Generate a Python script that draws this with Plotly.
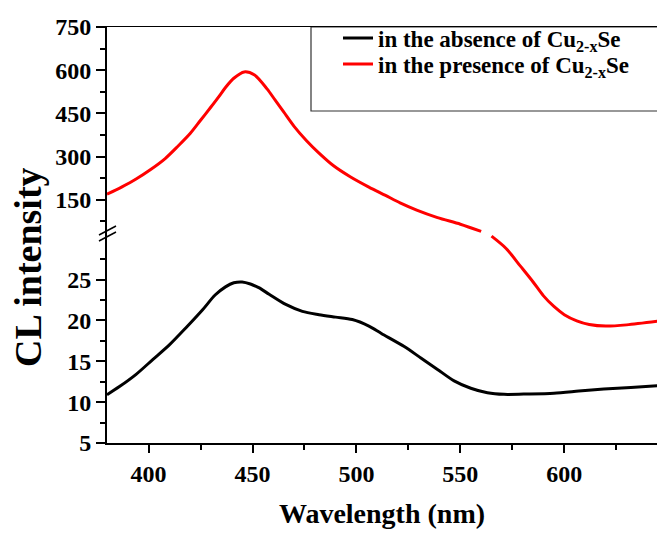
import plotly.graph_objects as go
from plotly.subplots import make_subplots

# ---- data ----
black_x = [380, 386, 394, 402, 410, 418, 426, 432, 437, 441, 445, 449, 453, 458, 466, 474, 482, 490,
           498, 506, 512, 523, 531, 539, 547, 555, 563, 571, 583, 595, 607, 619, 632, 645]
black_y = [10.9, 11.9, 13.4, 15.2, 17.0, 19.1, 21.3, 23.1, 24.1, 24.6, 24.7, 24.45, 24.0, 23.2, 21.95, 21.1,
           20.7, 20.4, 20.1, 19.3, 18.4, 16.8, 15.4, 14.0, 12.6, 11.7, 11.15, 10.95, 11.0, 11.1, 11.35,
           11.6, 11.8, 12.0]

red_upper_x = [380, 387, 394, 401, 408, 414, 420, 425, 430, 434, 437, 441, 446, 451, 457, 461, 465,
               470, 476, 482, 489, 497, 506, 514, 521, 529, 539, 550, 560]
red_upper_y = [169, 194, 222, 255, 293, 335, 380, 426, 472, 510, 540, 572, 594, 583, 535, 495, 455,
               405, 355, 312, 268, 230, 194, 165, 139, 114, 88, 65, 40]

red_lower_x = [565, 572, 579, 585, 590, 595, 600, 606, 612, 620, 630, 645]
red_lower_y = [30.3, 28.8, 26.6, 24.7, 23.0, 21.7, 20.7, 19.95, 19.5, 19.3, 19.45, 19.9]

lower_ticks = [5, 10, 15, 20, 25]
lower_minor = [7.5, 12.5, 17.5, 22.5, 27.5]
upper_ticks = [150, 300, 450, 600, 750]
upper_minor = [75, 225, 375, 525, 675]

name_absence = "in the absence of Cu<sub>2-x</sub>Se"
name_presence = "in the presence of Cu<sub>2-x</sub>Se"

FONT = "Liberation Serif"

fig = make_subplots(rows=2, cols=1, shared_xaxes=False, vertical_spacing=0,
                    row_heights=[0.495, 0.505])

line_kw = dict(width=3, shape="spline", smoothing=0.8)
fig.add_trace(go.Scatter(x=black_x, y=black_y, mode="lines", name=name_absence,
                         line=dict(color="black", **line_kw), legend="legend"), row=2, col=1)
fig.add_trace(go.Scatter(x=red_upper_x, y=red_upper_y, mode="lines", name=name_presence,
                         line=dict(color="#ff0000", **line_kw), legend="legend2",
                         legendgroup="p"), row=1, col=1)
fig.add_trace(go.Scatter(x=red_lower_x, y=red_lower_y, mode="lines", name=name_presence,
                         line=dict(color="#ff0000", **line_kw), legendgroup="p",
                         showlegend=False), row=2, col=1)

tickfont = dict(family=FONT, size=24, color="black", weight="bold")
xr = [380, 644.6]

# lower x axis (bottom)
fig.update_xaxes(row=2, col=1, range=xr, dtick=50, tick0=0, showline=True, linecolor="black",
                 linewidth=2, ticks="outside", ticklen=8, tickwidth=2, tickcolor="black",
                 tickfont=tickfont, showgrid=False, zeroline=False,
                 minor=dict(ticks="outside", ticklen=5, tickwidth=2, tickcolor="black", dtick=25),
                 title=dict(text="Wavelength (nm)", font=dict(family=FONT, size=28, color="black",
                                                               weight="bold"), standoff=18))
# upper x axis (top frame line only)
fig.update_xaxes(row=1, col=1, range=xr, showline=True, linecolor="black", linewidth=1,
                 side="top", ticks="", showticklabels=False, showgrid=False, zeroline=False)

# lower y axis
fig.update_yaxes(row=2, col=1, range=[5, 30.7], tickvals=lower_ticks, showline=True,
                 linecolor="black", linewidth=2, ticks="outside", ticklen=9, tickwidth=2,
                 tickcolor="black", tickfont=tickfont, showgrid=False, zeroline=False,
                 minor=dict(ticks="outside", ticklen=5, tickwidth=2, tickcolor="black",
                            tickvals=lower_minor))
# upper y axis
fig.update_yaxes(row=1, col=1, range=[34.7, 750], tickvals=upper_ticks, showline=True,
                 linecolor="black", linewidth=2, ticks="outside", ticklen=9, tickwidth=2,
                 tickcolor="black", tickfont=tickfont, showgrid=False, zeroline=False,
                 minor=dict(ticks="outside", ticklen=5, tickwidth=2, tickcolor="black",
                            tickvals=upper_minor))

L, T, B, W, H = 107, 27, 90, 657, 533
pw, ph = W - L, H - T - B

def px(x):
    return (x - L) / pw

def py(y):
    return (H - B - y) / ph

shapes = [
    # legend frame
    dict(type="rect", xref="paper", yref="paper", x0=px(311), x1=px(700), y0=py(111), y1=py(27),
         line=dict(color="#333333", width=1.2), fillcolor="white", layer="below"),
    # axis break marks
    dict(type="line", xref="paper", yref="paper", x0=px(99), y0=py(235), x1=px(116), y1=py(226),
         line=dict(color="black", width=1.5)),
    dict(type="line", xref="paper", yref="paper", x0=px(99), y0=py(241), x1=px(116), y1=py(232),
         line=dict(color="black", width=1.5)),
]

legend_font = dict(family=FONT, size=23, color="black", weight="bold")
fig.update_layout(
    width=W, height=H,
    margin=dict(l=L, r=0, t=T, b=B),
    paper_bgcolor="white", plot_bgcolor="white",
    shapes=shapes,
    showlegend=True,
    legend=dict(x=px(338), y=py(38), xanchor="left", yanchor="middle", bgcolor="rgba(0,0,0,0)",
                borderwidth=0, font=legend_font, itemwidth=30),
    legend2=dict(x=px(338), y=py(64), xanchor="left", yanchor="middle", bgcolor="rgba(0,0,0,0)",
                 borderwidth=0, font=legend_font, itemwidth=30),
    annotations=[dict(text="CL intensity", xref="paper", yref="paper", x=px(28), y=py(267),
                      xanchor="center", yanchor="middle", textangle=-90, showarrow=False,
                      font=dict(family=FONT, size=38, color="black", weight="bold"))],
)

fig.write_html("out.html")
